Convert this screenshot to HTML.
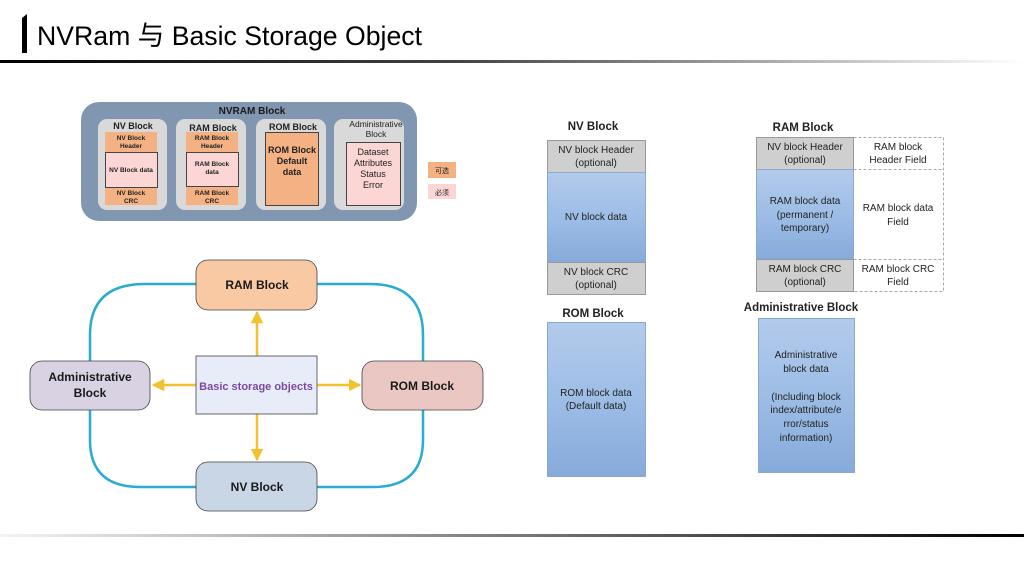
<!DOCTYPE html>
<html><head><meta charset="utf-8"><style>
html,body{margin:0;padding:0;background:#fff;width:1024px;height:576px;overflow:hidden}
svg{display:block}
text{font-family:"Liberation Sans","Noto Sans CJK SC",sans-serif}
</style></head><body>
<svg width="1024" height="576" viewBox="0 0 1024 576" xmlns="http://www.w3.org/2000/svg">
<defs>
<linearGradient id="tl" x1="0" x2="1"><stop offset="0" stop-color="#000"/><stop offset="0.45" stop-color="#444"/><stop offset="1" stop-color="#fff"/></linearGradient>
<linearGradient id="bl" x1="0" x2="1"><stop offset="0" stop-color="#f4f4f4"/><stop offset="1" stop-color="#000"/></linearGradient>
<linearGradient id="bg" x1="0" y1="0" x2="0" y2="1"><stop offset="0" stop-color="#b3cbeb"/><stop offset="0.5" stop-color="#9dbde6"/><stop offset="1" stop-color="#86aada"/></linearGradient>
<marker id="ar" viewBox="0 0 10 10" refX="9" refY="5" markerWidth="5" markerHeight="5" orient="auto"><path d="M0,0 L10,5 L0,10 z" fill="#f2c12e"/></marker>
</defs>
<!-- title -->
<rect x="22" y="18" width="5" height="35" fill="#000"/>
<path d="M22,18 L27,14 L27,18 z" fill="#000"/>
<text x="37" y="45" font-size="27" fill="#000" textLength="385" lengthAdjust="spacingAndGlyphs">NVRam 与 Basic Storage Object</text>
<rect x="0" y="60" width="1024" height="3" fill="url(#tl)"/>
<rect x="0" y="534" width="1024" height="3" fill="url(#bl)"/>

<!-- NVRAM block -->
<rect x="81" y="102" width="336" height="119" rx="18" fill="#8196b0"/>
<text x="252" y="114" font-size="10" font-weight="bold" text-anchor="middle" fill="#1a1a1a">NVRAM Block</text>
<g font-size="8" font-weight="bold" text-anchor="middle" fill="#222">
<rect x="98" y="119" width="69" height="91" rx="9" fill="#d9d9d9"/>
<text x="133" y="129" font-size="9">NV Block</text>
<rect x="105" y="132" width="52" height="20" fill="#f4b183"/>
<text x="131" y="140" font-size="6.5">NV Block</text><text x="131" y="148" font-size="6.5">Header</text>
<rect x="105.5" y="152.5" width="52" height="35" fill="#fcd5d5" stroke="#444"/>
<text x="131" y="172" font-size="6.5">NV Block data</text>
<rect x="105" y="188" width="52" height="17" fill="#f4b183"/>
<text x="131" y="195" font-size="6.5">NV Block</text><text x="131" y="203" font-size="6.5">CRC</text>

<rect x="176" y="119" width="70" height="91" rx="9" fill="#d9d9d9"/>
<text x="213" y="131" font-size="9">RAM Block</text>
<rect x="186" y="132" width="52" height="20" fill="#f4b183"/>
<text x="212" y="140" font-size="6.5">RAM Block</text><text x="212" y="148" font-size="6.5">Header</text>
<rect x="186.5" y="152.5" width="52" height="34" fill="#fcd5d5" stroke="#444"/>
<text x="212" y="166" font-size="6.5">RAM Block</text><text x="212" y="174" font-size="6.5">data</text>
<rect x="186" y="187" width="52" height="18" fill="#f4b183"/>
<text x="212" y="195" font-size="6.5">RAM Block</text><text x="212" y="203" font-size="6.5">CRC</text>

<rect x="256" y="119" width="70" height="91" rx="9" fill="#d9d9d9"/>
<text x="293" y="130" font-size="9">ROM Block</text>
<rect x="265.5" y="132.5" width="53" height="73" fill="#f4b183" stroke="#444"/>
<text x="292" y="153" font-size="9">ROM Block</text><text x="292" y="164" font-size="9">Default</text><text x="292" y="175" font-size="9">data</text>

<rect x="334" y="119" width="70" height="91" rx="9" fill="#d9d9d9"/>
<text x="376" y="127" font-size="8.5" font-weight="normal">Administrative</text>
<text x="376" y="137" font-size="8.5" font-weight="normal">Block</text>
<rect x="346.5" y="142.5" width="54" height="63" fill="#fcd5d5" stroke="#444"/>
<text x="373" y="155" font-size="9" font-weight="normal">Dataset</text><text x="373" y="166" font-size="9" font-weight="normal">Attributes</text><text x="373" y="177" font-size="9" font-weight="normal">Status</text><text x="373" y="188" font-size="9" font-weight="normal">Error</text>

<rect x="428" y="162" width="28" height="16" fill="#f4b183"/>
<text x="442" y="173" font-size="7" font-weight="normal">可选</text>
<rect x="428" y="184" width="28" height="15" fill="#fcd5d5"/>
<text x="442" y="195" font-size="7" font-weight="normal">必须</text>
</g>

<!-- bottom-left diagram -->
<g fill="none" stroke="#29acd0" stroke-width="2.5">
<path d="M196,284 H145 Q90,284 90,335 V361"/>
<path d="M317,284 H370 Q423,284 423,335 V361"/>
<path d="M90,410 V440 Q90,487 140,487 H196"/>
<path d="M423,410 V440 Q423,487 373,487 H317"/>
</g>
<g stroke="#f2c12e" stroke-width="2.5" marker-end="url(#ar)">
<line x1="257" y1="356" x2="257" y2="312"/>
<line x1="196" y1="385" x2="153" y2="385"/>
<line x1="317" y1="385" x2="360" y2="385"/>
<line x1="257" y1="414" x2="257" y2="460"/>
</g>
<g font-size="12" font-weight="bold" text-anchor="middle" fill="#1a1a1a" stroke="#444" stroke-width="0.8">
<rect x="196" y="260" width="121" height="50" rx="12" fill="#f9c9a4"/>
<rect x="30" y="361" width="120" height="49" rx="12" fill="#d8d2e3"/>
<rect x="362" y="361" width="121" height="49" rx="12" fill="#eac7c3"/>
<rect x="196" y="462" width="121" height="49" rx="12" fill="#c9d6e5"/>
<rect x="196" y="356" width="121" height="58" fill="#e8ecf8"/>
</g>
<g font-size="12" font-weight="bold" text-anchor="middle" fill="#1a1a1a">
<text x="257" y="289">RAM Block</text>
<text x="90" y="381">Administrative</text><text x="90" y="397">Block</text>
<text x="422" y="390">ROM Block</text>
<text x="257" y="491">NV Block</text>
<text x="256" y="390" font-size="11" fill="#7b4a9e">Basic storage objects</text>
</g>

<!-- right side -->
<g font-size="10" text-anchor="middle" fill="#222">
<text x="593" y="130" font-size="11.5" font-weight="bold">NV Block</text>
<rect x="547.5" y="140.5" width="98" height="32" fill="#cfcfcf" stroke="#999"/>
<text x="596" y="153">NV block Header</text><text x="596" y="166">(optional)</text>
<rect x="547.5" y="172.5" width="98" height="90" fill="url(#bg)" stroke="#8aa8d0"/>
<text x="596" y="220">NV block data</text>
<rect x="547.5" y="262.5" width="98" height="32" fill="#cfcfcf" stroke="#999"/>
<text x="596" y="275">NV block CRC</text><text x="596" y="288">(optional)</text>

<text x="593" y="317" font-size="11.5" font-weight="bold">ROM Block</text>
<rect x="547.5" y="322.5" width="98" height="154" fill="url(#bg)" stroke="#8aa8d0"/>
<text x="596" y="396">ROM block data</text><text x="596" y="409">(Default data)</text>

<text x="803" y="131" font-size="11.5" font-weight="bold">RAM Block</text>
<rect x="756.5" y="137.5" width="97" height="32" fill="#cfcfcf" stroke="#999"/>
<text x="805" y="150">NV block Header</text><text x="805" y="163">(optional)</text>
<rect x="756.5" y="169.5" width="97" height="90" fill="url(#bg)" stroke="#8aa8d0"/>
<text x="805" y="204">RAM block data</text><text x="805" y="218">(permanent  /</text><text x="805" y="231">temporary)</text>
<rect x="756.5" y="259.5" width="97" height="32" fill="#cfcfcf" stroke="#999"/>
<text x="805" y="272">RAM block CRC</text><text x="805" y="285">(optional)</text>
<g fill="none" stroke="#aaa" stroke-dasharray="3,2">
<path d="M853.5,137.5 H943.5 V291.5 H853.5"/>
<line x1="853.5" y1="169.5" x2="943.5" y2="169.5"/>
<line x1="853.5" y1="259.5" x2="943.5" y2="259.5"/>
</g>
<text x="898" y="150">RAM block</text><text x="898" y="163">Header Field</text>
<text x="898" y="211">RAM block data</text><text x="898" y="225">Field</text>
<text x="898" y="272">RAM block CRC</text><text x="898" y="285">Field</text>

<text x="801" y="311" font-size="11.5" font-weight="bold">Administrative Block</text>
<rect x="758.5" y="318.5" width="96" height="154" fill="url(#bg)" stroke="#8aa8d0"/>
<text x="806" y="358">Administrative</text><text x="806" y="372">block data</text>
<text x="806" y="400">(Including block</text><text x="806" y="413">index/attribute/e</text><text x="806" y="427">rror/status</text><text x="806" y="441">information)</text>
</g>
</svg>
</body></html>
